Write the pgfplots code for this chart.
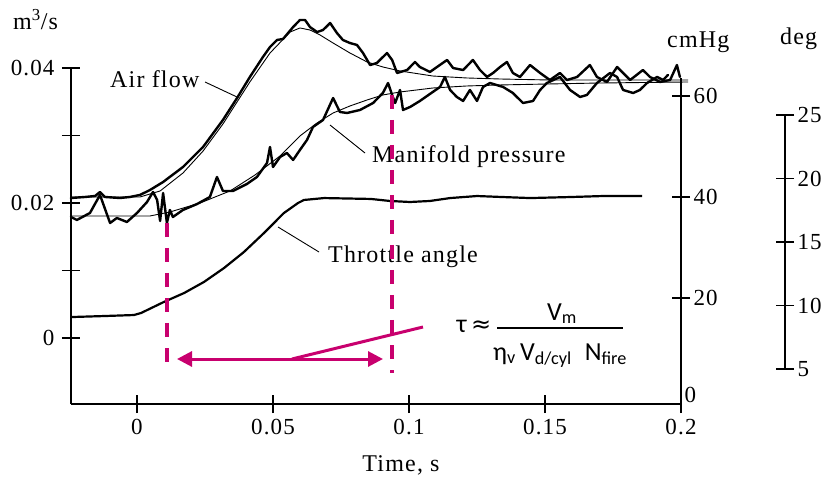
\documentclass[border=0pt]{standalone}
\usepackage{fontspec}
\setmainfont{Liberation Serif}[LetterSpace=5]
\newfontfamily\calib{Carlito}
\newfontfamily\dejavu{DejaVu Sans}
\usepackage{pgfplots}
\pgfplotsset{compat=1.18}
\usetikzlibrary{arrows.meta}
\definecolor{mag}{RGB}{200,0,110}
\pgfplotsset{
  base/.style={scale only axis, clip=false, scaled ticks=false,
    tick style={line width=1.5pt, black},
    major tick length=18pt, tick align=inside,
    ticklabel style={font=\fontsize{23}{25}\selectfont},
    xmin=-0.02426},
  noarrows/.style={axis line style={-, line width=1.8pt},
    every outer x axis line/.append style={-},
    every outer y axis line/.append style={-},
    every inner x axis line/.append style={-},
    every inner y axis line/.append style={-}},
  thick curve/.style={black, line width=2.4pt, line join=round, line cap=round},
  thin curve/.style={black, line width=0.9pt, line join=round},
}
\begin{document}
\begin{tikzpicture}
\useasboundingbox (0,0) rectangle (822pt,477pt);

% ---------------- main axis: time and air flow (m^3/s)
\begin{axis}[base, at={(71pt,73pt)}, anchor=south west, width=610pt, height=336pt,
  xmax=0.2, ymin=-0.00978, ymax=0.04,
  axis x line=bottom, axis y line=left, noarrows,
  xtick={0,0.05,0.1,0.15,0.2}, xticklabels={0,0.05,0.1,0.15,0.2},
  ytick={0,0.01,0.02,0.03,0.04}, yticklabels={0,,0.02,,0.04},
  xticklabel style={yshift=-3pt}, yticklabel style={xshift=-4pt}]
% air flow, measured
\addplot[thick curve] coordinates {
(-0.0243,0.02074) (-0.0191,0.02089) (-0.0154,0.02104) (-0.0136,0.02163) (-0.0118,0.02089)
(-0.0063,0.02074) (-0.0026,0.02089) (0.0011,0.02119) (0.0048,0.02193) (0.0096,0.02311)
(0.0169,0.02533) (0.0243,0.02830) (0.0316,0.03230) (0.0368,0.03556) (0.0415,0.03867)
(0.0463,0.04163) (0.0489,0.04311) (0.0515,0.04415) (0.0537,0.04430) (0.0574,0.04607)
(0.0599,0.04711) (0.0618,0.04711) (0.0636,0.04607) (0.0662,0.04533) (0.0684,0.04563)
(0.0710,0.04667) (0.0735,0.04519) (0.0757,0.04415) (0.0783,0.04370) (0.0809,0.04341)
(0.0831,0.04222) (0.0857,0.04044) (0.0882,0.04074) (0.0919,0.04222) (0.0938,0.04119)
(0.0956,0.03926) (0.0993,0.03970) (0.1022,0.04089) (0.1040,0.04015) (0.1077,0.03941)
(0.1103,0.04015) (0.1140,0.04119) (0.1162,0.04000) (0.1199,0.03970) (0.1235,0.04119)
(0.1261,0.03970) (0.1287,0.03867) (0.1309,0.03926) (0.1335,0.04015) (0.1360,0.04089)
(0.1382,0.03926) (0.1408,0.03867) (0.1445,0.04044) (0.1482,0.03926) (0.1518,0.03822)
(0.1555,0.03926) (0.1581,0.03822) (0.1618,0.03867) (0.1665,0.04044) (0.1691,0.03867)
(0.1728,0.03793) (0.1765,0.04015) (0.1787,0.03926) (0.1813,0.03822) (0.1860,0.03970)
(0.1886,0.03867) (0.1923,0.03793) (0.1960,0.03822) (0.1985,0.04044) (0.1996,0.03867)
};
% air flow, model
\addplot[thin curve] coordinates {
(-0.0243,0.02089) (0.0011,0.02089) (0.0085,0.02178) (0.0169,0.02444) (0.0243,0.02770)
(0.0316,0.03170) (0.0415,0.03793) (0.0489,0.04222) (0.0563,0.04533) (0.0599,0.04593)
(0.0636,0.04563) (0.0673,0.04489) (0.0721,0.04370) (0.0783,0.04222) (0.0846,0.04089)
(0.0904,0.04015) (0.0967,0.03956) (0.1088,0.03881) (0.1213,0.03852) (0.1335,0.03837)
(0.1518,0.03822) (0.1702,0.03822) (0.2026,0.03822)
};
\end{axis}

% ---------------- manifold pressure axis (cmHg)
\begin{axis}[base, at={(71pt,73pt)}, anchor=south west, width=610pt, height=326pt,
  xmax=0.2, ymin=-0.99, ymax=63.56,
  axis x line=none, axis y line=right, noarrows,
  ytick={20,40,60}, yticklabels={20,40,60},
  extra y ticks={0}, extra y tick labels={0},
  extra y tick style={major tick length=0pt, yticklabel style={yshift=4pt}}]
\addplot[thick curve] coordinates {
(-0.0243,36.04) (-0.0221,35.45) (-0.0173,36.83) (-0.0136,40.40) (-0.0099,34.85)
(-0.0074,35.84) (-0.0037,35.05) (0.0000,36.83) (0.0037,39.01) (0.0059,40.99)
(0.0074,39.41) (0.0085,35.25) (0.0096,40.79) (0.0110,34.85) (0.0121,37.43)
(0.0132,36.04) (0.0169,37.43) (0.0221,38.61) (0.0268,40.00) (0.0294,43.96)
(0.0316,41.19) (0.0353,41.19) (0.0404,42.57) (0.0441,43.96) (0.0478,46.73)
(0.0489,49.90) (0.0500,45.94) (0.0526,47.92) (0.0551,48.71) (0.0574,47.33)
(0.0599,49.31) (0.0625,51.29) (0.0647,53.86) (0.0684,55.25) (0.0721,59.60)
(0.0746,56.83) (0.0772,56.63) (0.0820,57.23) (0.0868,58.61) (0.0904,60.59)
(0.0923,62.57) (0.0938,60.20) (0.0949,58.61) (0.0967,61.19) (0.0978,57.23)
(0.1004,57.82) (0.1040,59.01) (0.1077,60.40) (0.1114,61.78) (0.1132,63.76)
(0.1151,61.19) (0.1176,59.80) (0.1199,59.01) (0.1224,61.19) (0.1250,59.01)
(0.1272,61.78) (0.1298,62.57) (0.1346,61.78) (0.1382,60.59) (0.1419,58.61)
(0.1456,59.01) (0.1482,61.19) (0.1507,62.57) (0.1555,63.76) (0.1592,61.19)
(0.1629,59.80) (0.1654,60.20) (0.1691,62.57) (0.1739,64.55) (0.1765,63.76)
(0.1787,61.19) (0.1824,60.59) (0.1849,61.19) (0.1875,62.57) (0.1912,63.76)
(0.1934,63.17) (0.1952,64.16)
};
\addplot[thin curve] coordinates {
(-0.0243,36.24) (0.0048,36.24) (0.0121,37.03) (0.0232,38.81) (0.0342,41.19)
(0.0434,44.36) (0.0526,48.12) (0.0599,52.08) (0.0662,54.65) (0.0721,56.63)
(0.0783,58.02) (0.0846,59.21) (0.0904,60.20) (0.0967,60.79) (0.1088,61.58)
(0.1213,61.98) (0.1335,62.18) (0.1518,62.38) (0.1702,62.57) (0.2026,62.77)
};
\end{axis}

% ---------------- throttle angle axis (deg)
\begin{axis}[base, at={(71pt,108pt)}, anchor=south west, width=714pt, height=254pt,
  xmax=0.23824, ymin=5, ymax=25,
  axis x line=none, axis y line=right, noarrows,
  ytick={5,10,15,20,25}, yticklabels={5,10,15,20,25}]
\addplot[black, line width=2.2pt, line join=round] coordinates {
(-0.0243,9.09) (-0.0121,9.17) (-0.0011,9.25) (0.0015,9.41) (0.0099,10.28)
(0.0173,10.98) (0.0246,11.85) (0.0320,12.95) (0.0393,14.21) (0.0467,15.71)
(0.0540,17.28) (0.0592,18.07) (0.0614,18.31) (0.0688,18.46) (0.0860,18.39)
(0.0930,18.23) (0.1004,18.15) (0.1077,18.23) (0.1151,18.46) (0.1250,18.62)
(0.1346,18.54) (0.1445,18.46) (0.1592,18.54) (0.1713,18.62) (0.1857,18.62)
};
\end{axis}

% ---------------- labels
\begin{scope}[font=\fontsize{24}{26}\selectfont]
\node[anchor=base west, inner sep=0pt] at (13pt,447pt) {m\textsuperscript{3}/s};
\node[anchor=base west, inner sep=0pt] at (667pt,429pt) {cmHg};
\node[anchor=base west, inner sep=0pt] at (780pt,432pt) {deg};
\node[anchor=base, inner sep=0pt] at (401pt,6pt) {Time, s};
\node[anchor=base west, inner sep=0pt] at (110pt,389pt) {Air flow};
\node[anchor=base west, inner sep=0pt] at (372pt,314pt) {Manifold pressure};
\node[anchor=base west, inner sep=0pt] at (328pt,214pt) {Throttle angle};
\end{scope}
\draw[line width=0.9pt] (205pt,395pt) -- (237pt,380pt);
\draw[line width=0.9pt] (365pt,324pt) -- (330pt,352pt);
\draw[line width=0.9pt] (319pt,225pt) -- (278pt,250pt);

% ---------------- magenta annotation
\draw[mag, line width=3.5pt, dash pattern=on 14pt off 11pt] (167pt,254pt) -- (167pt,104pt);
\draw[mag, line width=3.5pt, dash pattern=on 14pt off 11pt] (392pt,382pt) -- (392pt,104pt);
\draw[mag, line width=3pt, {Triangle[length=15pt,width=15pt]}-{Triangle[length=15pt,width=15pt]}] (177pt,118pt) -- (383pt,118pt);
\draw[mag, line width=3pt] (292pt,118pt) -- (423pt,150pt);

\begin{scope}[font=\calib\fontsize{26}{28}\selectfont]
\node[anchor=base, inner sep=0pt] at (474pt,144pt) {τ\,{\dejavu\fontsize{24}{26}\selectfont ≈}};
\node[anchor=base, inner sep=0pt] at (562pt,157pt) {V\textsubscript{m}};
\draw[line width=1.2pt] (497pt,149pt) -- (623pt,149pt);
\node[anchor=base, inner sep=0pt] at (560pt,117pt) {η\textsubscript{v}\,V\textsubscript{d/cyl}\enspace N\textsubscript{fire}};
\end{scope}
\end{tikzpicture}
\end{document}
